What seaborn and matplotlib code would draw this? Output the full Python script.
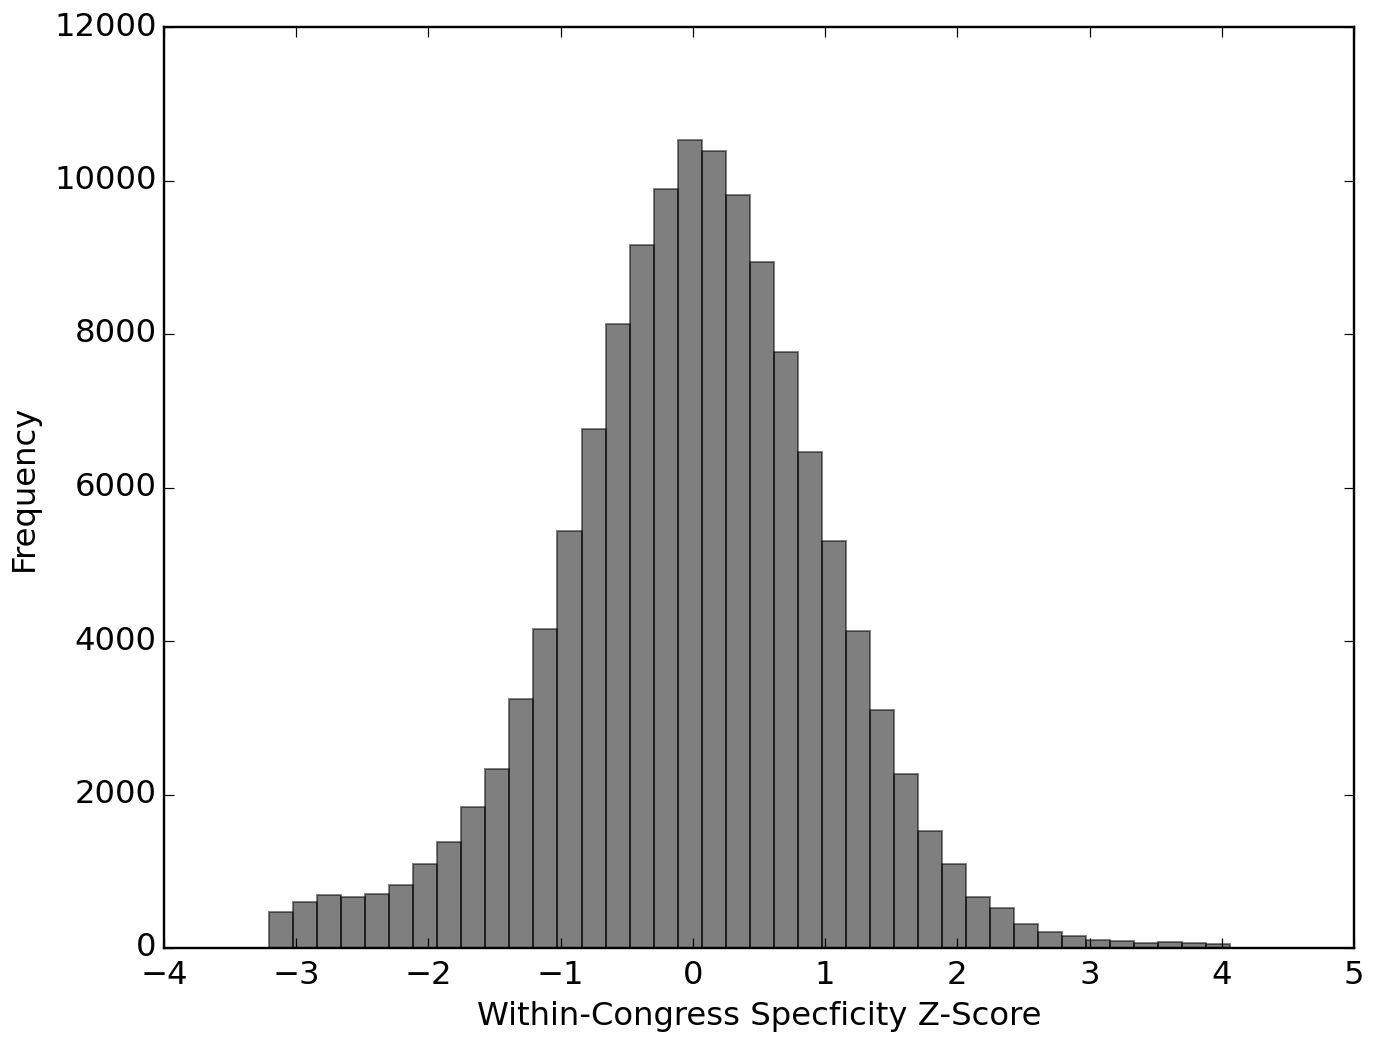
import numpy as np
import pandas as pd
import matplotlib
matplotlib.use("Agg")
import matplotlib.pyplot as plt
import seaborn as sns

# histogram counts (40 equal bins)
bin_lo = -3.205
bin_hi = 4.065
counts = [469, 599, 694, 668, 707, 824, 1094, 1380, 1840, 2327,
          3238, 4150, 5430, 6762, 8134, 9162, 9892, 10530, 10386, 9814,
          8936, 7760, 6467, 5303, 4124, 3103, 2262, 1523, 1090, 668,
          517, 312, 204, 160, 100, 95, 69, 74, 65, 52]
x_ticks = [-4, -3, -2, -1, 0, 1, 2, 3, 4, 5]
y_ticks = [0, 2000, 4000, 6000, 8000, 10000, 12000]

edges = np.linspace(bin_lo, bin_hi, len(counts) + 1)
centers = (edges[:-1] + edges[1:]) / 2
df = pd.DataFrame({"z": centers, "n": counts})

plt.style.use("classic")
plt.rcParams["figure.facecolor"] = "white"
plt.rcParams["savefig.facecolor"] = "white"
plt.rcParams["font.family"] = ["DejaVu Sans"]
plt.rcParams["font.size"] = 13.5

dpi = 172
fig = plt.figure(figsize=(1373 / dpi, 1040 / dpi), dpi=dpi)
ax = fig.add_axes([164 / 1373, 1 - 948 / 1040, (1354 - 164) / 1373, (948 - 27) / 1040])

sns.histplot(data=df, x="z", weights="n", bins=list(edges), stat="count",
             color="black", alpha=0.5, edgecolor=(0, 0, 0, 0.5), linewidth=0.8, ax=ax)

ax.set_xlim(-4, 5)
ax.set_ylim(0, 12000)
ax.set_xticks(x_ticks)
ax.set_yticks(y_ticks)
ax.tick_params(axis="y", pad=3)
ax.tick_params(axis="x", pad=5)
ax.set_xlabel("Within-Congress Specficity Z-Score", labelpad=4)
ax.set_ylabel("Frequency", labelpad=6)

fig.savefig("out.png", dpi=dpi)
